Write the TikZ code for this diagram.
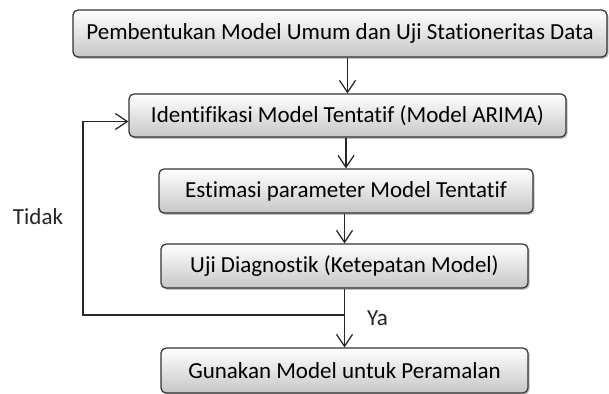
\documentclass[tikz,border=0pt]{standalone}
\usepackage{fontspec}
\setmainfont{Carlito}[Ligatures=NoCommon]
\usepackage{tikz}
\usetikzlibrary{arrows.meta}
\usetikzlibrary{shadows}
\usetikzlibrary{calc}

\begin{document}
\begin{tikzpicture}[x=0.5pt, y=-0.5pt]
        % ================= gaya =================
        \tikzset{
            % kotak proses bergradasi
            pbox/.style={rectangle, rounded corners=2.5pt, draw=black!80, line width=0.6pt, top color=white, bottom color=black!22, drop shadow={shadow xshift=0.8pt, shadow yshift=-0.9pt, fill=black!45, opacity=0.55}, inner sep=0pt, minimum height=22pt, font=\fontsize{11.5}{13}\selectfont},
            % panah alur
            flow_arrow/.style={line width=0.6pt, black!85, -{Straight Barb[length=6pt, width=8pt]}},
            flow_line/.style={line width=0.6pt, black!85},
            % label samping
            side_label/.style={font=\fontsize{11.5}{13}\selectfont, text=black!85}
        }

        \useasboundingbox (0,0) rectangle (609,394);

        % ================= kotak =================
        \node[pbox, minimum width=267pt, minimum height=23.5pt] (b1) at (340,33.5) {Pembentukan Model Umum dan Uji Stationeritas Data};
        \node[pbox, minimum width=218.5pt, minimum height=21.5pt] (b2) at (347.5,115.5) {Identifikasi Model Tentatif (Model ARIMA)};
        \node[pbox, minimum width=187pt] (b3) at (346,191) {Estimasi parameter Model Tentatif};
        \node[pbox, minimum width=183.5pt] (b4) at (344.5,266) {Uji Diagnostik (Ketepatan Model)};
        \node[pbox, minimum width=183.5pt, minimum height=22.5pt] (b5) at (344.5,370.5) {Gunakan Model untuk Peramalan};

        % titik cabang
        \coordinate (ya_p) at (b4.south |- 0,315);
        \coordinate (back_p) at (83,315);

        % ================= panah =================
        \draw[flow_arrow] (b1.south -| b2.north) -- (b2.north);
        \draw[flow_arrow] (b2.south -| b3.north) -- (b3.north);
        \draw[flow_arrow] (b3.south -| b4.north) -- (b4.north);
        \draw[flow_line] (b4.south) -- (ya_p);
        \draw[flow_arrow] (ya_p) -- (ya_p |- b5.north);
        % kembali bila tidak
        \draw[flow_arrow] (ya_p) -- (back_p) |- ([yshift=-3pt]b2.west);

        % ================= label =================
        \node[side_label] (tidak) at (38,217) {Tidak};
        \node[side_label, anchor=west] (ya) at (360,318) {Ya};

\end{tikzpicture}
\end{document}
